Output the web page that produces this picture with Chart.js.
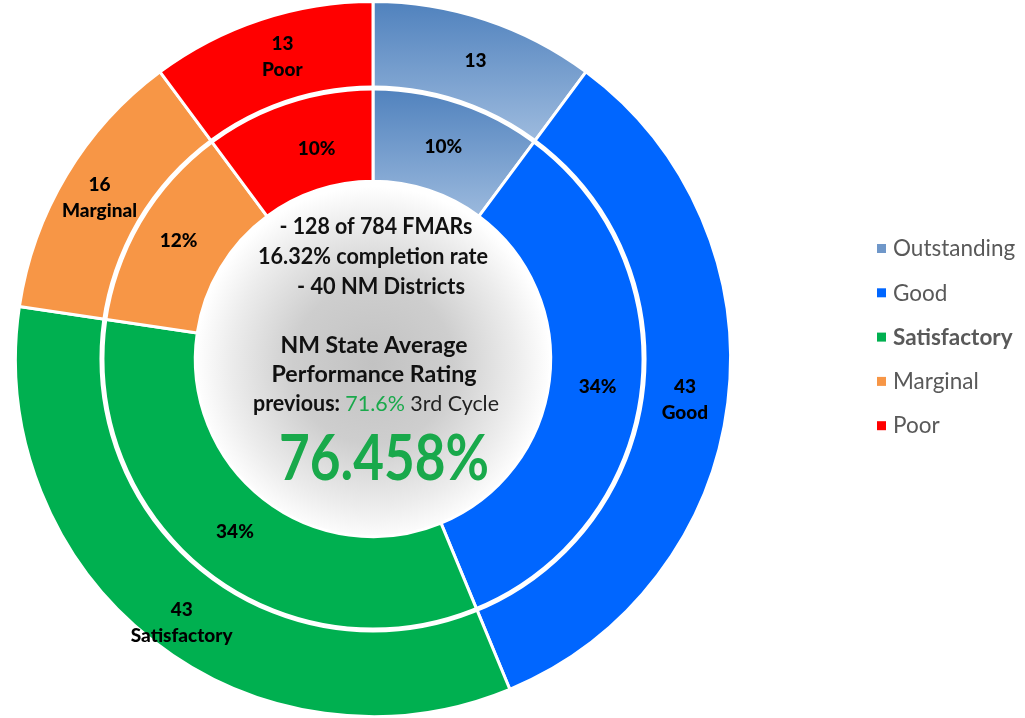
<!DOCTYPE html>
<html>
<head>
<meta charset="utf-8">
<script src="https://cdn.jsdelivr.net/npm/chart.js@4"></script>
<style>
  html, body { margin: 0; padding: 0; background: #ffffff; }
  #wrap { width: 1025px; height: 718px; }
</style>
</head>
<body>
<div id="wrap"><canvas id="c" width="1025" height="718"></canvas></div>
<script>
// ---- data ----
const categories = ['Outstanding', 'Good', 'Satisfactory', 'Marginal', 'Poor'];
const fmarCounts = [13, 43, 43, 16, 13];
const percentLabels = ['10%', '34%', '34%', '12%', '10%'];
const outerShowName = [false, true, true, true, true];
const legendBold = [false, false, true, false, false];
const sliceColors = ['#4f81bd', '#0066ff', '#00b050', '#f79646', '#ff0000'];
const outstandingLight = '#9bb9dd';
const infoLines = ['- 128 of 784 FMARs', '16.32% completion rate', '- 40 NM Districts'];
const avgLines = ['NM State Average', 'Performance Rating'];
const previousParts = [['previous: ', 'bold', '#111111'], ['71.6%', 'normal', '#19a94b'], [' 3rd Cycle', 'normal', '#222222']];
const currentAverage = '76.458%';

const FONT = 'Lato, "Open Sans", sans-serif';

// label placement tweaks (styling only)
const outerNudge = [[4, 0], [0, 2], [2, 16], [-4, 0], [8, -4]];
const innerNudge = [[0, 1], [2, 0], [0, -4], [-2, -3], [14, 3]];

function sliceColor(ctx) {
  const i = ctx.dataIndex;
  if (i !== 0) return sliceColors[i];
  const chart = ctx.chart;
  const ca = chart.chartArea;
  if (!ca) return sliceColors[0];
  const cy = (ca.top + ca.bottom) / 2;
  const R = Math.min(ca.right - ca.left, ca.bottom - ca.top) / 2;
  let y0, y1;
  if (ctx.datasetIndex === 0) { y0 = cy - R; y1 = cy - R * 0.62; }
  else { y0 = cy - R * 0.76; y1 = cy - R * 0.40; }
  const g = chart.ctx.createLinearGradient(0, y0, 0, y1);
  g.addColorStop(0, sliceColors[0]);
  g.addColorStop(1, outstandingLight);
  return g;
}

function fitText(c, text, cx, cy, targetW) {
  const w = c.measureText(text).width;
  const s = targetW / w;
  c.save();
  c.translate(cx, cy);
  c.scale(s, 1);
  c.textAlign = 'center';
  c.fillText(text, 0, 0);
  c.restore();
}

const decor = {
  id: 'decor',
  beforeDatasetsDraw(chart) {
    const arc = chart.getDatasetMeta(1).data[0];
    if (!arc) return;
    const { x, y, innerRadius } = arc.getProps(['x', 'y', 'innerRadius'], true);
    const c = chart.ctx;
    c.save();
    const g = c.createRadialGradient(x, y + 5, 0, x, y + 5, innerRadius);
    g.addColorStop(0, '#c2c2c2');
    g.addColorStop(0.45, '#cecece');
    g.addColorStop(0.8, '#ececec');
    g.addColorStop(1, '#ffffff');
    c.fillStyle = g;
    c.beginPath();
    c.arc(x, y, innerRadius, 0, Math.PI * 2);
    c.fill();
    c.restore();
  },
  afterDatasetsDraw(chart) {
    const c = chart.ctx;
    const arc = chart.getDatasetMeta(1).data[0];
    const { x, y, outerRadius } = arc.getProps(['x', 'y', 'outerRadius'], true);
    c.save();
    // gap between rings
    c.strokeStyle = '#ffffff';
    c.lineWidth = 5;
    c.beginPath();
    c.arc(x, y, outerRadius, 0, Math.PI * 2);
    c.stroke();

    // slice labels
    c.fillStyle = '#000000';
    c.textAlign = 'center';
    c.textBaseline = 'middle';
    c.font = '900 19px ' + FONT;
    chart.getDatasetMeta(0).data.forEach((el, i) => {
      const p = el.getCenterPoint(true);
      const lines = [String(fmarCounts[i])];
      if (outerShowName[i]) lines.push(categories[i]);
      const lh = 26;
      const px = p.x + outerNudge[i][0];
      const start = p.y + outerNudge[i][1] - (lines.length - 1) * lh / 2;
      lines.forEach((t, k) => c.fillText(t, px, start + k * lh));
    });
    chart.getDatasetMeta(1).data.forEach((el, i) => {
      const p = el.getCenterPoint(true);
      c.fillText(percentLabels[i], p.x + innerNudge[i][0], p.y + innerNudge[i][1]);
    });

    // center text
    c.fillStyle = '#111111';
    c.font = 'bold 22px ' + FONT;
    const infoY = [227, 257, 287];
    const infoX = [376, 373, 381];
    const infoW = [193, 230, 168];
    infoLines.forEach((t, k) => fitText(c, t, infoX[k], infoY[k], infoW[k]));
    const avgY = [346, 375];
    const avgW = [187, 205];
    avgLines.forEach((t, k) => fitText(c, t, 374, avgY[k], avgW[k]));

    // mixed line
    const parts = previousParts.map(([t, w, col]) => {
      c.font = w + ' 22px ' + FONT;
      return { t, w, col, width: c.measureText(t).width };
    });
    const total = parts.reduce((s, p) => s + p.width, 0);
    const targetTotal = 246;
    const sc = targetTotal / total;
    c.save();
    c.translate(376 - targetTotal / 2, 404);
    c.scale(sc, 1);
    c.textAlign = 'left';
    let px = 0;
    parts.forEach(p => {
      c.font = p.w + ' 22px ' + FONT;
      c.fillStyle = p.col;
      c.fillText(p.t, px, 0);
      px += p.width;
    });
    c.restore();

    c.fillStyle = '#19a94b';
    c.font = 'bold 64px ' + FONT;
    fitText(c, currentAverage, 384, 459, 210);
    c.restore();
  },
  afterDraw(chart) {
    const c = chart.ctx;
    c.save();
    c.textBaseline = 'middle';
    c.textAlign = 'left';
    const y0 = 248, step = 44.3;
    categories.forEach((name, i) => {
      const y = y0 + i * step;
      c.fillStyle = i === 0 ? '#6f97c9' : sliceColors[i];
      c.fillRect(877, y - 4, 9, 9);
      c.fillStyle = '#595959';
      c.font = (legendBold[i] ? 'bold ' : '') + '22.5px ' + FONT;
      c.fillText(name, 893, y + 1);
    });
    c.restore();
  }
};

new Chart(document.getElementById('c'), {
  type: 'doughnut',
  data: {
    labels: categories,
    datasets: [
      { data: fmarCounts, weight: 87.5, backgroundColor: sliceColor, borderColor: '#ffffff', borderWidth: 3 },
      { data: fmarCounts, weight: 94.5, backgroundColor: sliceColor, borderColor: '#ffffff', borderWidth: 3 }
    ]
  },
  options: {
    responsive: false,
    devicePixelRatio: 1,
    animation: false,
    cutout: '49.7%',
    layout: { padding: { left: 10, right: 289, top: -4, bottom: -4 } },
    plugins: {
      legend: { display: false },
      tooltip: { enabled: false }
    }
  },
  plugins: [decor]
});
</script>
</body>
</html>
